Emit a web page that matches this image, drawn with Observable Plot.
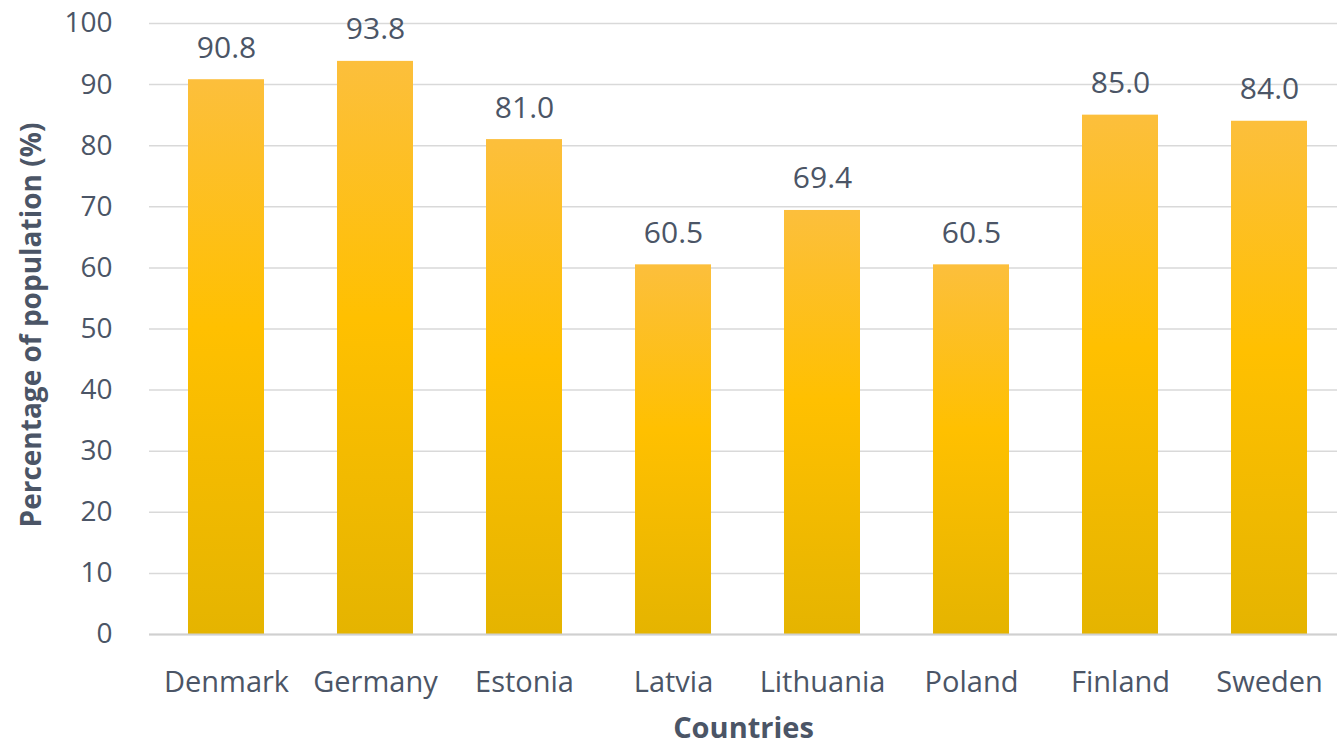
<!DOCTYPE html>
<html>
<head>
<meta charset="utf-8">
<script src="https://cdn.jsdelivr.net/npm/d3@7"></script>
<script src="https://cdn.jsdelivr.net/npm/@observablehq/plot@0.6"></script>
<style>
  html, body { margin: 0; padding: 0; background: #fff; }
</style>
</head>
<body>
<div id="chart"></div>
<script>
const countries = ["Denmark", "Germany", "Estonia", "Latvia", "Lithuania", "Poland", "Finland", "Sweden"];
const values = [90.8, 93.8, 81.0, 60.5, 69.4, 60.5, 85.0, 84.0];
const yTicks = [0, 10, 20, 30, 40, 50, 60, 70, 80, 90, 100];

const data = countries.map((c, i) => ({country: c, value: values[i]}));
const textColor = "#4b5566";

const gradientDefs = () => {
  const ns = "http://www.w3.org/2000/svg";
  const g = document.createElementNS(ns, "g");
  g.innerHTML = `<defs><linearGradient id="barGrad" x1="0" y1="0" x2="0" y2="1">
    <stop offset="0%" stop-color="#fcbf3c"/>
    <stop offset="45%" stop-color="#ffc000"/>
    <stop offset="100%" stop-color="#e5b400"/>
  </linearGradient></defs>`;
  return g;
};

const chart = Plot.plot({
  width: 1337,
  height: 747,
  marginTop: 23,
  marginBottom: 113,
  marginLeft: 149,
  marginRight: 0,
  style: {fontFamily: "'Open Sans', sans-serif", fontSize: "28px", color: textColor, background: "#fff"},
  x: {domain: countries, range: [149, 1346], paddingInner: 0.49, paddingOuter: 0.245, label: null},
  y: {domain: [0, 100], label: null},
  marks: [
    gradientDefs,
    Plot.gridY(yTicks, {stroke: "#d9d9d9", strokeOpacity: 1, strokeWidth: 1.5}),
    Plot.barY(data, {x: "country", y: "value", fill: "url(#barGrad)"}),
    Plot.ruleY([0], {stroke: "#d0d0d0", strokeWidth: 2}),
    Plot.axisY(yTicks, {tickSize: 0, tickPadding: 37, fontSize: 28, fill: textColor, tickFormat: d => String(d)}),
    Plot.axisX({tickSize: 0, tickPadding: 37, fontSize: 29, fill: textColor, label: null}),
    Plot.text(data, {x: "country", y: "value", text: d => d.value.toFixed(1), lineAnchor: "bottom", dy: -22, fontSize: 30, fill: textColor}),
    Plot.text(["Countries"], {frameAnchor: "bottom", dy: 103, lineAnchor: "bottom", fontSize: 29, fontWeight: "bold", fill: textColor}),
    Plot.text(["Percentage of population (%)"], {frameAnchor: "left", dx: -117, dy: -4, rotate: -90, textAnchor: "middle", fontSize: 28, fontWeight: "bold", fill: textColor})
  ]
});

document.getElementById("chart").appendChild(chart);
</script>
</body>
</html>
